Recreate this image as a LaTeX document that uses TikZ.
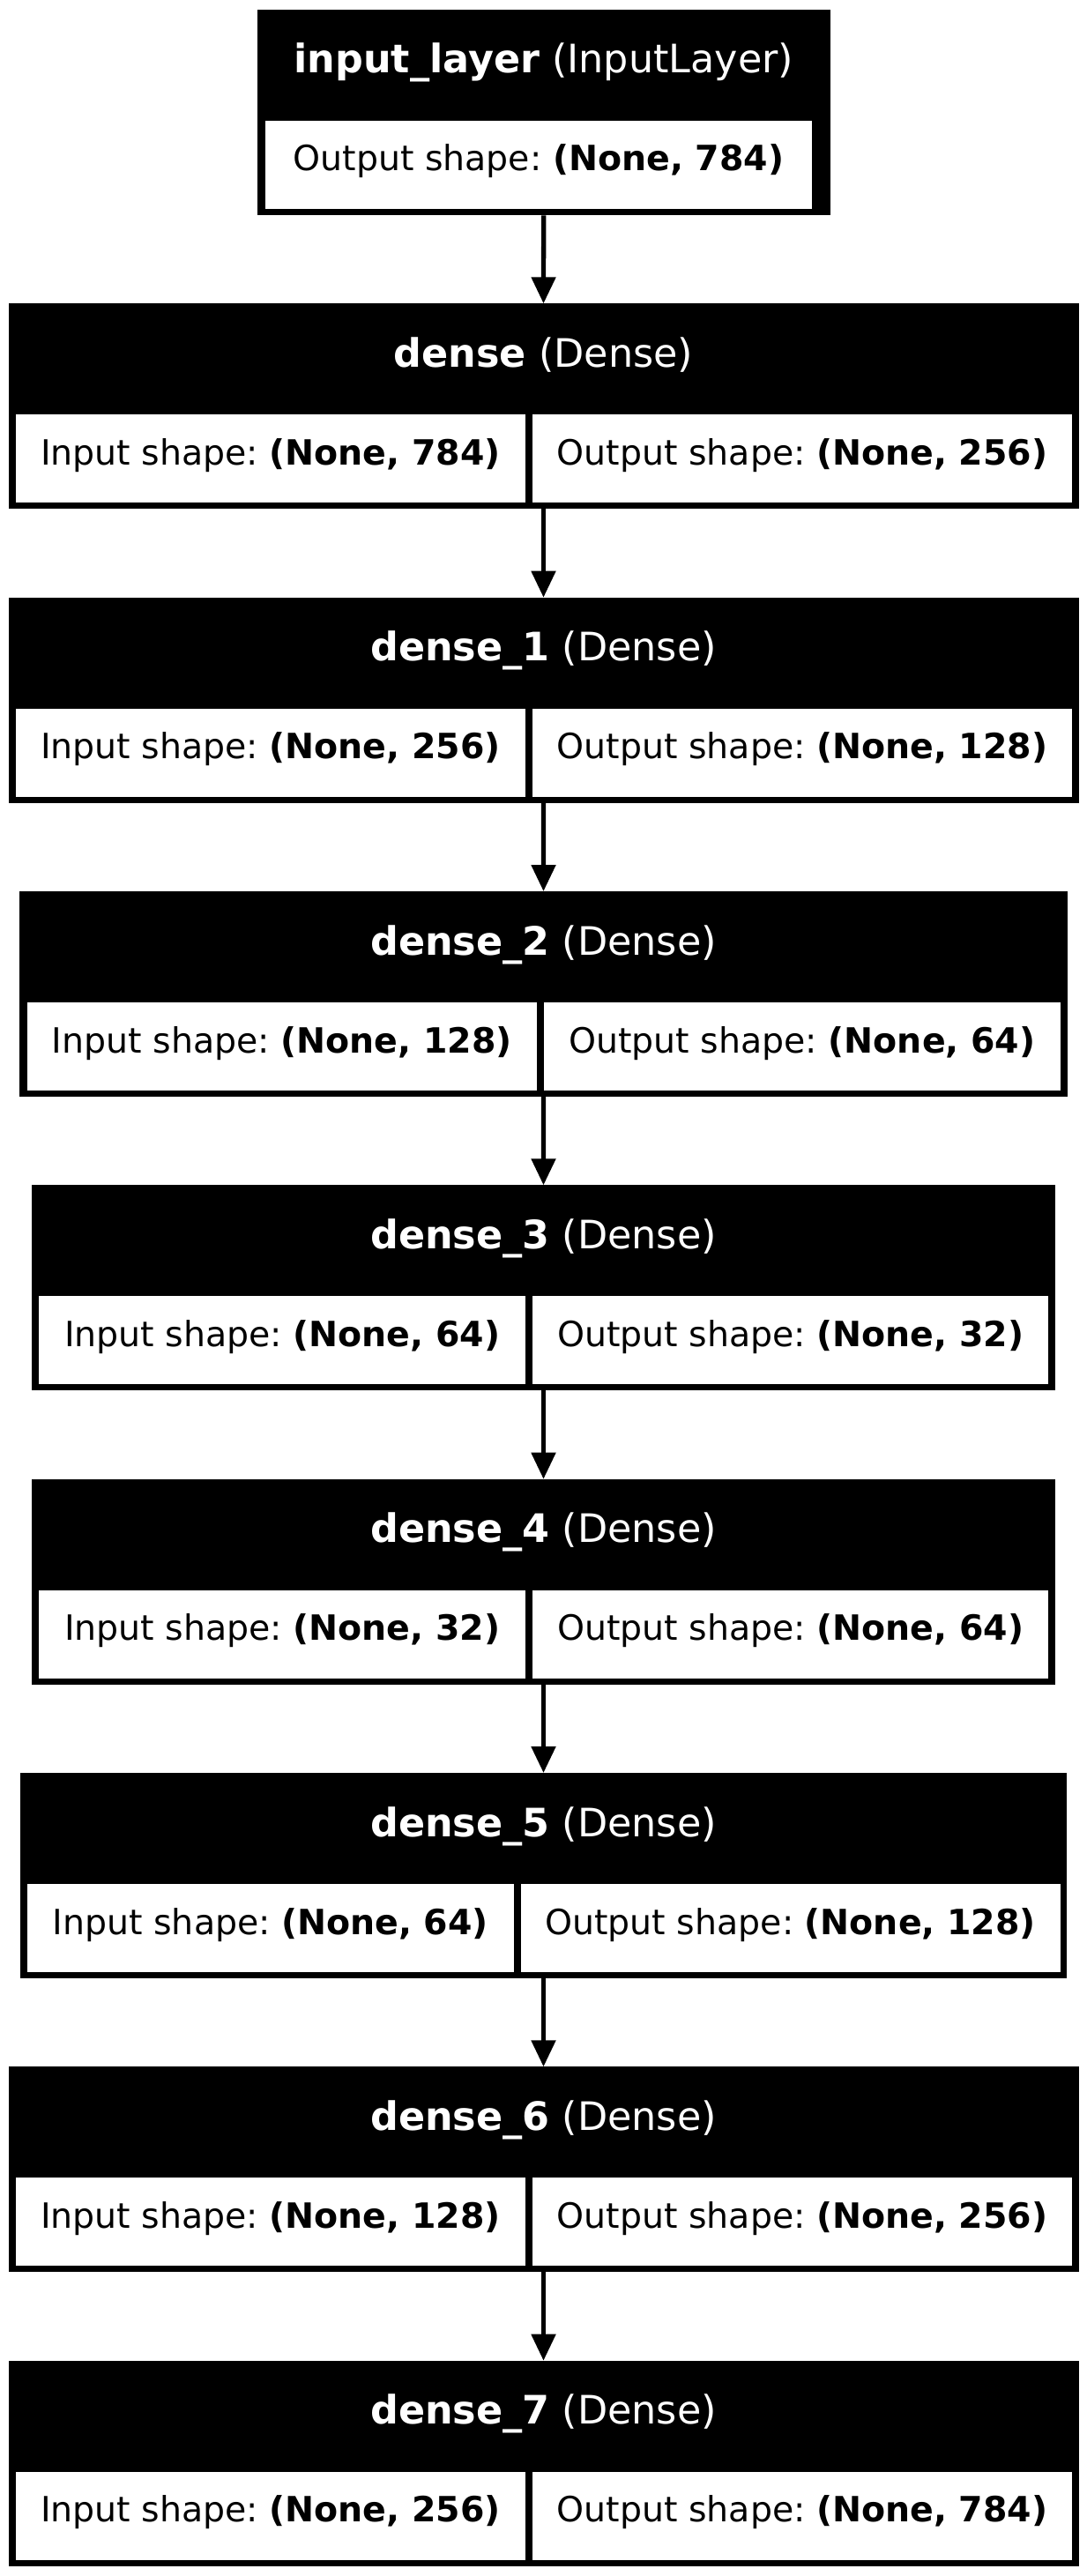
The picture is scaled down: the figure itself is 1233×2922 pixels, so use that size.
\documentclass[tikz,border=0pt]{standalone}
\usepackage{fontspec}
\setmainfont{DejaVu Sans}
\usetikzlibrary{arrows.meta}
\frenchspacing
\tikzset{
 layerbox/.style={fill=black, draw=none, inner sep=0pt, outer sep=0pt, anchor=north west},
 cellbox/.style={fill=white, draw=none, inner sep=0pt, outer sep=0pt, anchor=north west, minimum height=36pt},
 hdrtext/.style={text=white, anchor=base, inner sep=0pt, font=\fontsize{16}{19}\selectfont\frenchspacing},
 celltext/.style={text=black, anchor=base, inner sep=0pt, font=\fontsize{14.2}{17}\selectfont\frenchspacing},
 flow/.style={line width=1.9pt, -{Triangle[length=10.8pt, width=9.7pt]}}
}
% #1 name, #2 top, #3 left, #4 right, #5 separator, #6 title, #7 in, #8 out
\newcommand\kLayer[8]{%
 \node[layerbox, minimum width={(#4-#3)*0.36pt}, minimum height={233*0.36pt}] (#1) at (#3,#2) {};
 \node[cellbox, minimum width={(#5-4-#3-8.4)*0.36pt}] (#1-l) at ({#3+8.4},{#2+126}) {};
 \node[cellbox, minimum width={(#4-7.6-#5-4)*0.36pt}] (#1-r) at ({#5+4},{#2+126}) {};
 \node[hdrtext] (#1-t) at ({(#3+#4)/2},{#2+72}) {\textbf{#6} (Dense)};
 \node[celltext] (#1-lt) at ({(#3+8.4+#5-4)/2},{#2+183}) {Input shape: \textbf{(None, #7)}};
 \node[celltext] (#1-rt) at ({(#5+4+#4-7.6)/2},{#2+183}) {Output shape: \textbf{(None, #8)}};
}
\begin{document}
\begin{tikzpicture}[x=0.36pt, y=-0.36pt]
\fill[white] (0,0) rectangle (1233,2922);
\useasboundingbox (0,0) rectangle (1233,2922);
% input layer
\node[layerbox, minimum width={650*0.36pt}, minimum height={233.3*0.36pt}] (inp) at (291.7,11) {};
\node[cellbox, minimum width={619.7*0.36pt}] (inp-c) at (301,136.7) {};
\node[hdrtext] (inp-t) at (616.7,83) {\textbf{input\_layer} (InputLayer)};
\node[celltext] (inp-ct) at (610.9,194) {Output shape: \textbf{(None, 784)}};
\kLayer{d0}{344.3}{9.5}{1223.5}{600}{dense}{784}{256}
\kLayer{d1}{677.7}{9.5}{1223.5}{600}{dense\_1}{256}{128}
\kLayer{d2}{1011}{22.3}{1210.7}{612.7}{dense\_2}{128}{64}
\kLayer{d3}{1344.3}{36}{1197}{600}{dense\_3}{64}{32}
\kLayer{d4}{1677.7}{36}{1197}{600}{dense\_4}{32}{64}
\kLayer{d5}{2011}{22.7}{1210.3}{586.6}{dense\_5}{64}{128}
\kLayer{d6}{2344.3}{9.5}{1223.5}{600}{dense\_6}{128}{256}
\kLayer{d7}{2677.7}{9.5}{1223.5}{600}{dense\_7}{256}{784}
\draw[flow] (inp.south) -- (d0.north);
\draw[flow] (d0.south) -- (d1.north);
\draw[flow] (d1.south) -- (d2.north);
\draw[flow] (d2.south) -- (d3.north);
\draw[flow] (d3.south) -- (d4.north);
\draw[flow] (d4.south) -- (d5.north);
\draw[flow] (d5.south) -- (d6.north);
\draw[flow] (d6.south) -- (d7.north);
\end{tikzpicture}
\end{document}
